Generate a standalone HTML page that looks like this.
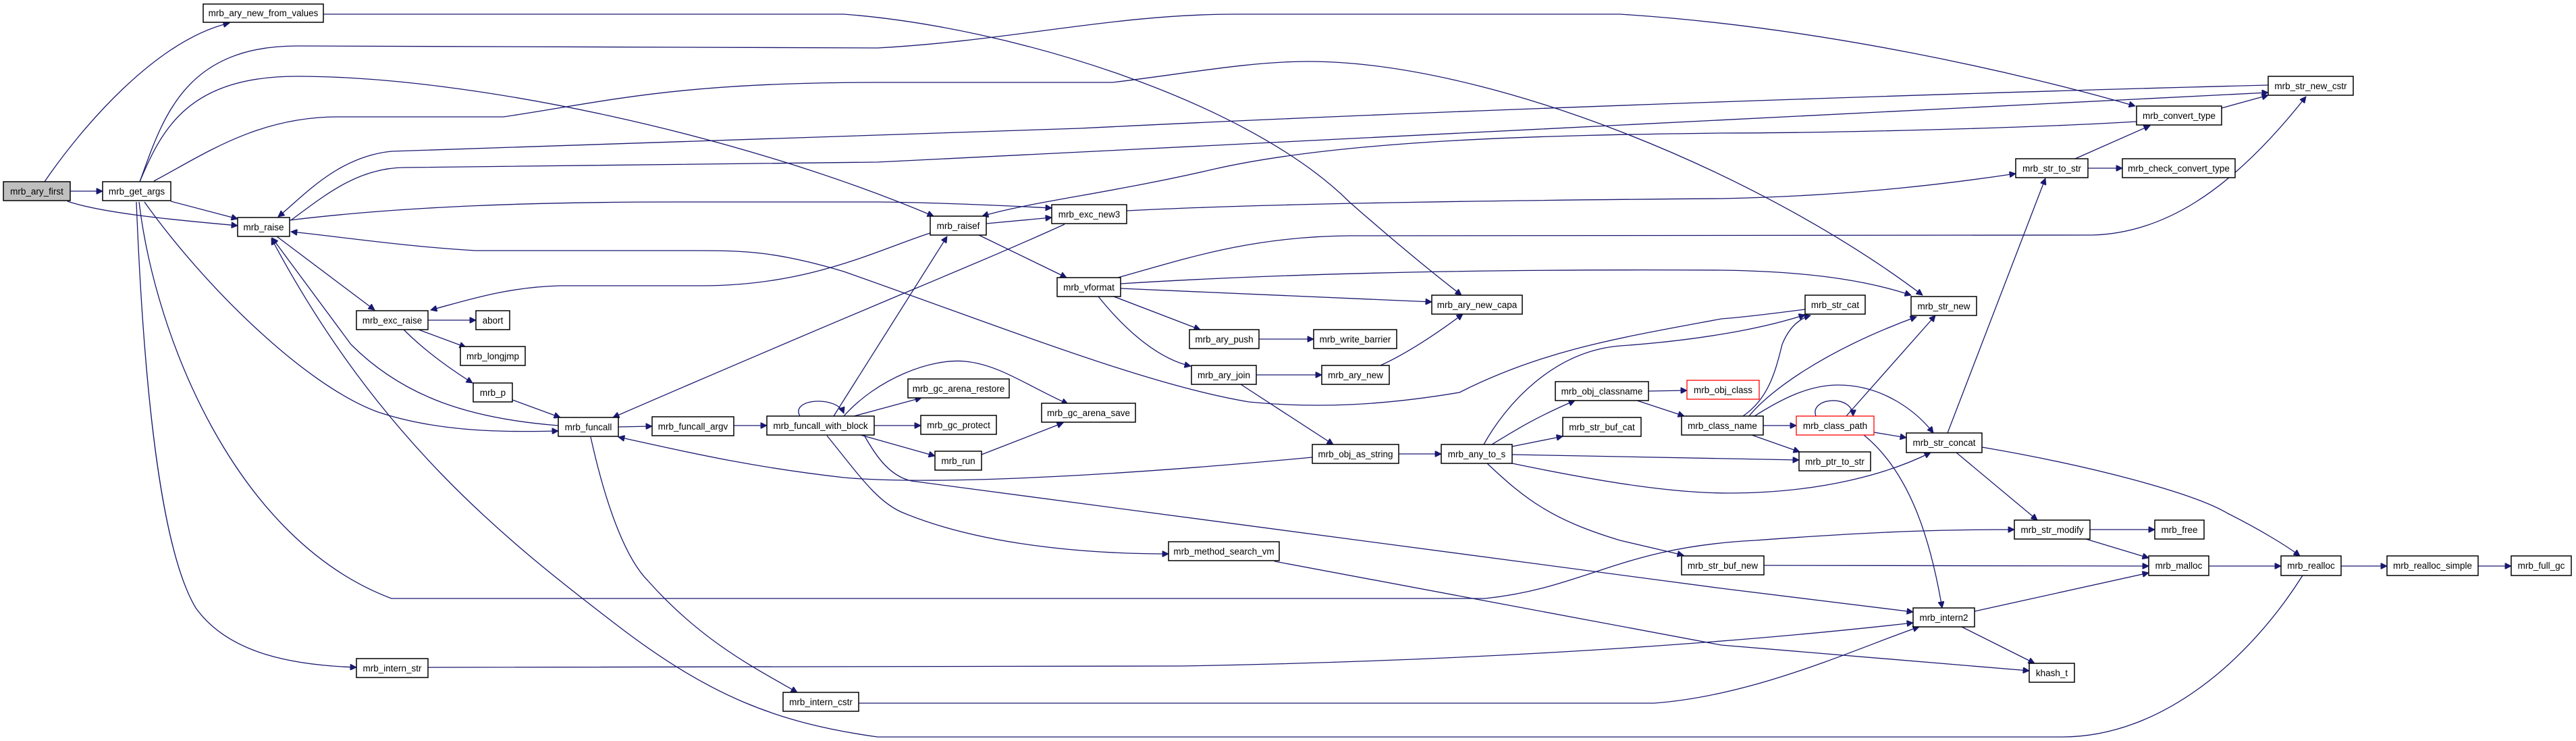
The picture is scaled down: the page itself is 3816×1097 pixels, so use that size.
<!DOCTYPE html>
<html><head><meta charset="utf-8"><style>
html,body{margin:0;padding:0;background:#fff;}
svg{display:block;}
text{font-family:"Liberation Sans",sans-serif;font-size:13.5px;fill:#000;text-anchor:middle;}
.e{fill:none;stroke:#191970;stroke-width:1.3;marker-end:url(#a);}
.n{fill:#fff;stroke:#000;stroke-width:1.5;}
.r{fill:#fff;stroke:#f00;stroke-width:1.3;}
</style></head><body>
<svg width="3816" height="1097" viewBox="0 0 3816 1097" xmlns="http://www.w3.org/2000/svg">
<defs><marker id="a" viewBox="0 0 10 10" refX="10" refY="5" markerWidth="11" markerHeight="9" markerUnits="userSpaceOnUse" orient="auto"><path d="M0,0 L10,5 L0,10 z" fill="#191970" stroke="#191970"/></marker></defs>
<g>
<path class="e" d="M66,269 C120,190 230,60 340,34"/>
<path class="e" d="M104,283 L152,283"/>
<path class="e" d="M100,298 C150,315 250,325 352,334"/>
<path class="e" d="M253,298 L352,324"/>
<path class="e" d="M207,269 C240,180 270,68 440,68 L1300,71 C1500,60 1650,21 1830,21 L2400,21 C2700,40 3000,110 3163,157"/>
<path class="e" d="M207,269 C240,190 280,113 440,113 C700,113 1100,200 1383,320"/>
<path class="e" d="M228,268 C300,230 380,173 500,173 L746,173 C900,150 1000,122 1300,122 L1648,122 C1750,110 1850,91 1938,91 C2200,91 2600,250 2848,437"/>
<path class="e" d="M3360,126 C3000,135 2200,160 1600,190 L580,224 C500,232 450,290 412,321"/>
<path class="e" d="M431,326 C480,290 530,248 600,248 L1300,240 C1900,215 2800,160 3360,137"/>
<path class="e" d="M3165,180 C3000,190 2700,197 2550,197 C2300,200 1996,206 1800,250 C1650,285 1520,300 1455,320"/>
<path class="e" d="M3291,160 L3360,141"/>
<path class="e" d="M410,350 L555,459"/>
<path class="e" d="M1378,345 C1300,370 1200,423 1040,423 L830,423 C750,425 690,445 638,459"/>
<path class="e" d="M429,326 C600,305 800,299 1000,299 L1300,299 C1400,300 1500,305 1558,308"/>
<path class="e" d="M1461,331 L1558,322"/>
<path class="e" d="M1669,312 C1900,300 2300,296 2550,294 C2750,290 2900,270 2986,257"/>
<path class="e" d="M1577,332 C1450,390 1300,448 908,618"/>
<path class="e" d="M2674,458 C2620,465 2580,470 2550,472 C2400,500 2286,518 2162,581 C2050,600 1950,605 1850,595 C1700,570 1500,490 1250,402 C1150,372 1100,371 1036,371 L705,371 C600,365 500,350 431,343"/>
<path class="e" d="M2198,658 C2230,600 2300,520 2400,512 C2500,505 2600,490 2674,466"/>
<path class="e" d="M634,474 L705,474"/>
<path class="e" d="M620,488 L690,514"/>
<path class="e" d="M598,488 C630,520 665,545 700,567"/>
<path class="e" d="M759,592 L830,618"/>
<path class="e" d="M827,630 C700,620 600,590 520,510 L403,352"/>
<path class="e" d="M214,299 C300,420 450,570 560,610 C650,640 750,640 827,638"/>
<path class="e" d="M916,632 L966,631"/>
<path class="e" d="M1087,630 L1136,630"/>
<path class="e" d="M1185,616 C1170,590 1240,585 1250,612"/>
<path class="e" d="M1235,616 L1403,350"/>
<path class="e" d="M1265,616 L1365,589"/>
<path class="e" d="M1295,630 L1364,630"/>
<path class="e" d="M1275,644 L1385,675"/>
<path class="e" d="M1250,616 C1300,560 1380,530 1430,535 C1480,540 1520,570 1582,598"/>
<path class="e" d="M1454,673 L1575,626"/>
<path class="e" d="M1944,677 C1700,700 1400,720 1250,707 C1100,690 1000,665 916,647"/>
<path class="e" d="M1225,645 C1270,700 1300,745 1340,760 C1450,805 1600,820 1731,820"/>
<path class="e" d="M1280,644 C1300,680 1320,705 1350,712 L2550,871 L2834,906"/>
<path class="e" d="M1888,831 L2550,955 L3006,993"/>
<path class="e" d="M206,299 C230,500 350,800 580,886 L2200,886 C2350,870 2400,810 2600,800 C2800,785 2900,784 2984,784"/>
<path class="e" d="M202,299 C210,500 230,800 290,900 C340,970 440,985 528,988"/>
<path class="e" d="M634,988 L1750,986 C2100,980 2500,960 2834,922"/>
<path class="e" d="M875,647 C900,760 930,830 960,860 C1040,950 1120,990 1181,1025"/>
<path class="e" d="M1272,1041 L2450,1041 C2600,1030 2750,960 2843,928"/>
<path class="e" d="M3411,852 C3330,980 3200,1091 3055,1091 L1300,1091 C1150,1070 1050,1030 912,924 C750,800 560,650 402,353"/>
<path class="e" d="M1450,348 L1580,411"/>
<path class="e" d="M1660,427 L2121,447"/>
<path class="e" d="M1660,420 C1900,405 2200,398 2550,400 C2700,402 2780,420 2831,437"/>
<path class="e" d="M1656,411 C1750,385 1850,350 2000,349 L3100,348 C3200,345 3300,290 3416,143"/>
<path class="e" d="M1650,439 L1778,488"/>
<path class="e" d="M1627,439 C1660,480 1710,530 1764,542"/>
<path class="e" d="M1865,502 L1946,502"/>
<path class="e" d="M1861,555 L1958,555"/>
<path class="e" d="M2045,541 C2080,525 2120,500 2167,465"/>
<path class="e" d="M479,21 L1250,21 C1500,40 1850,150 2000,300 C2080,370 2130,410 2165,437"/>
<path class="e" d="M1838,569 L1975,658"/>
<path class="e" d="M2072,672 L2135,672"/>
<path class="e" d="M2210,658 C2240,640 2270,620 2333,593"/>
<path class="e" d="M2240,661 L2315,646"/>
<path class="e" d="M2240,673 L2665,681"/>
<path class="e" d="M2240,686 C2380,715 2480,730 2560,730 C2700,730 2800,700 2860,670"/>
<path class="e" d="M2203,686 C2260,740 2300,770 2400,800 L2494,822"/>
<path class="e" d="M2442,579 L2499,578"/>
<path class="e" d="M2425,593 L2495,616"/>
<path class="e" d="M2612,630 L2661,630"/>
<path class="e" d="M2595,644 L2666,669"/>
<path class="e" d="M2582,616 C2620,590 2630,550 2640,510 C2650,485 2665,472 2682,467"/>
<path class="e" d="M2591,616 C2620,580 2700,520 2839,469"/>
<path class="e" d="M2599,616 C2640,590 2680,570 2723,570 C2790,570 2840,610 2864,641"/>
<path class="e" d="M2690,616 C2680,588 2745,583 2745,616"/>
<path class="e" d="M2735,616 L2867,467"/>
<path class="e" d="M2776,640 L2824,648"/>
<path class="e" d="M2761,644 C2830,700 2860,800 2877,900"/>
<path class="e" d="M2885,641 L3030,264"/>
<path class="e" d="M3074,235 L3185,186"/>
<path class="e" d="M3093,249 L3144,249"/>
<path class="e" d="M2898,670 L3018,770"/>
<path class="e" d="M2936,662 C3100,690 3250,730 3300,760 C3350,785 3390,810 3407,823"/>
<path class="e" d="M3096,784 L3192,784"/>
<path class="e" d="M3090,798 L3183,826"/>
<path class="e" d="M2613,837 L3183,838"/>
<path class="e" d="M2925,905 L3183,848"/>
<path class="e" d="M2906,928 L3014,982"/>
<path class="e" d="M3272,838 L3379,838"/>
<path class="e" d="M3468,838 L3536,838"/>
<path class="e" d="M3671,838 L3720,838"/>
</g>
<g>
<rect x="5" y="269" width="99" height="28" fill="#bfbfbf" stroke="#000" stroke-width="1.5"/><text x="54.5" y="288">mrb_ary_first</text>
<rect class="n" x="152" y="269" width="101" height="28"/><text x="202.5" y="288">mrb_get_args</text>
<rect class="n" x="301" y="6" width="178" height="27"/><text x="390" y="24">mrb_ary_new_from_values</text>
<rect class="n" x="352" y="322" width="77" height="28"/><text x="390.5" y="341">mrb_raise</text>
<rect class="n" x="528" y="460" width="106" height="28"/><text x="581" y="479">mrb_exc_raise</text>
<rect class="n" x="705" y="460" width="50" height="28"/><text x="730" y="479">abort</text>
<rect class="n" x="682" y="513" width="96" height="28"/><text x="730" y="532">mrb_longjmp</text>
<rect class="n" x="701" y="567" width="58" height="28"/><text x="730" y="586">mrb_p</text>
<rect class="n" x="827" y="618" width="89" height="28"/><text x="871.5" y="637">mrb_funcall</text>
<rect class="n" x="966" y="617" width="121" height="28"/><text x="1026.5" y="636">mrb_funcall_argv</text>
<rect class="n" x="1136" y="616" width="159" height="28"/><text x="1215.5" y="635">mrb_funcall_with_block</text>
<rect class="n" x="528" y="975" width="106" height="28"/><text x="581" y="994">mrb_intern_str</text>
<rect class="n" x="1160" y="1025" width="112" height="28"/><text x="1216" y="1044">mrb_intern_cstr</text>
<rect class="n" x="1378" y="320" width="83" height="28"/><text x="1419.5" y="339">mrb_raisef</text>
<rect class="n" x="1558" y="303" width="111" height="28"/><text x="1613.5" y="322">mrb_exc_new3</text>
<rect class="n" x="1566" y="411" width="94" height="28"/><text x="1613" y="430">mrb_vformat</text>
<rect class="n" x="2121" y="437" width="134" height="28"/><text x="2188" y="456">mrb_ary_new_capa</text>
<rect class="n" x="1762" y="488" width="103" height="28"/><text x="1813.5" y="507">mrb_ary_push</text>
<rect class="n" x="1946" y="488" width="123" height="28"/><text x="2007.5" y="507">mrb_write_barrier</text>
<rect class="n" x="1765" y="541" width="96" height="28"/><text x="1813" y="560">mrb_ary_join</text>
<rect class="n" x="1958" y="541" width="100" height="28"/><text x="2008" y="560">mrb_ary_new</text>
<rect class="n" x="1345" y="561" width="150" height="28"/><text x="1420" y="580">mrb_gc_arena_restore</text>
<rect class="n" x="1364" y="615" width="112" height="28"/><text x="1420" y="634">mrb_gc_protect</text>
<rect class="n" x="1543" y="597" width="139" height="28"/><text x="1612.5" y="616">mrb_gc_arena_save</text>
<rect class="n" x="1385" y="668" width="69" height="28"/><text x="1419.5" y="687">mrb_run</text>
<rect class="n" x="1944" y="658" width="128" height="28"/><text x="2008" y="677">mrb_obj_as_string</text>
<rect class="n" x="2135" y="658" width="105" height="28"/><text x="2187.5" y="677">mrb_any_to_s</text>
<rect class="n" x="2304" y="565" width="138" height="28"/><text x="2373" y="584">mrb_obj_classname</text>
<rect class="n" x="2315" y="618" width="116" height="28"/><text x="2373" y="637">mrb_str_buf_cat</text>
<rect class="n" x="1731" y="802" width="164" height="28"/><text x="1813" y="821">mrb_method_search_vm</text>
<rect class="n" x="3360" y="113" width="126" height="28"/><text x="3423" y="132">mrb_str_new_cstr</text>
<rect class="n" x="3165" y="157" width="126" height="28"/><text x="3228" y="176">mrb_convert_type</text>
<rect class="n" x="2986" y="235" width="107" height="28"/><text x="3039.5" y="254">mrb_str_to_str</text>
<rect class="n" x="3144" y="235" width="167" height="28"/><text x="3227.5" y="254">mrb_check_convert_type</text>
<rect class="n" x="2674" y="437" width="89" height="28"/><text x="2718.5" y="456">mrb_str_cat</text>
<rect class="n" x="2831" y="439" width="97" height="28"/><text x="2879.5" y="458">mrb_str_new</text>
<rect class="r" x="2499" y="563" width="107" height="28"/><text x="2552.5" y="582">mrb_obj_class</text>
<rect class="n" x="2491" y="616" width="121" height="28"/><text x="2551.5" y="635">mrb_class_name</text>
<rect class="r" x="2661" y="616" width="115" height="28"/><text x="2718.5" y="635">mrb_class_path</text>
<rect class="n" x="2665" y="669" width="106" height="28"/><text x="2718" y="688">mrb_ptr_to_str</text>
<rect class="n" x="2824" y="641" width="112" height="29"/><text x="2880" y="660">mrb_str_concat</text>
<rect class="n" x="2491" y="823" width="122" height="28"/><text x="2552" y="842">mrb_str_buf_new</text>
<rect class="n" x="2984" y="770" width="112" height="28"/><text x="3040" y="789">mrb_str_modify</text>
<rect class="n" x="3192" y="770" width="73" height="28"/><text x="3228.5" y="789">mrb_free</text>
<rect class="n" x="3183" y="823" width="89" height="29"/><text x="3227.5" y="842">mrb_malloc</text>
<rect class="n" x="3379" y="823" width="89" height="29"/><text x="3423.5" y="842">mrb_realloc</text>
<rect class="n" x="3536" y="823" width="135" height="29"/><text x="3603.5" y="842">mrb_realloc_simple</text>
<rect class="n" x="3720" y="823" width="89" height="29"/><text x="3764.5" y="842">mrb_full_gc</text>
<rect class="n" x="2834" y="900" width="91" height="28"/><text x="2879.5" y="919">mrb_intern2</text>
<rect class="n" x="3006" y="982" width="67" height="28"/><text x="3039.5" y="1001">khash_t</text>
</g>
</svg>
</body></html>
